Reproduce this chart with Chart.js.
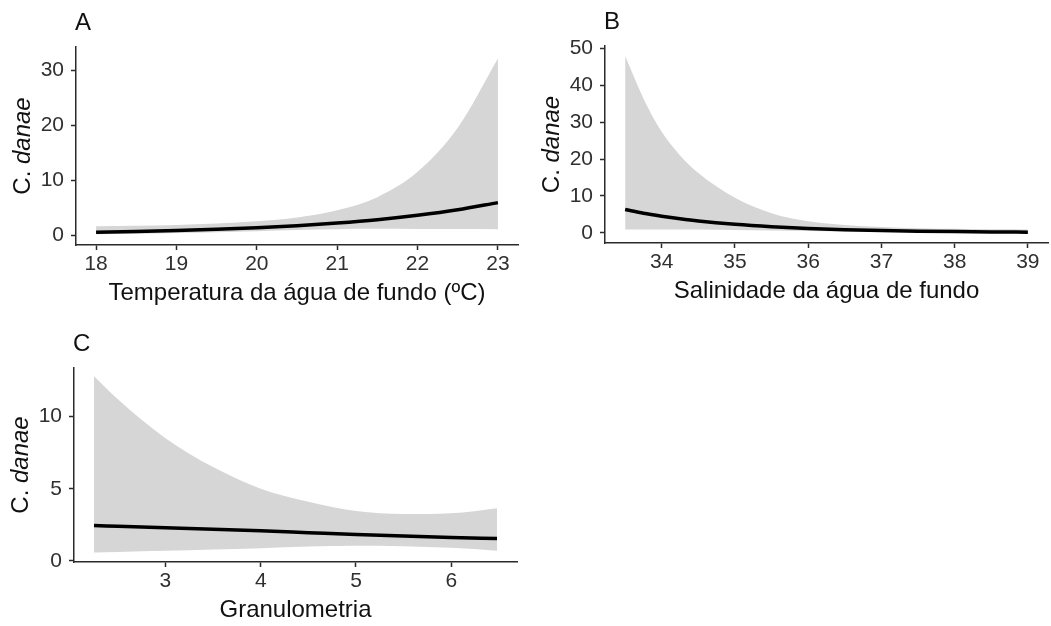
<!DOCTYPE html>
<html><head><meta charset="utf-8">
<script src="https://cdn.jsdelivr.net/npm/chart.js@4"></script>
<style>
html,body{margin:0;padding:0;background:#fff;}
body{width:1051px;height:626px;position:relative;overflow:hidden;}
canvas{position:absolute;}
</style></head><body>
<canvas id="cA" width="520" height="310" style="left:0;top:0"></canvas>
<canvas id="cB" width="531" height="310" style="left:520px;top:0"></canvas>
<canvas id="cC" width="530" height="316" style="left:0;top:310px"></canvas>
<script>
// ---- Panel A: Temperatura ----
const tempX     = [18, 18.5, 19, 19.5, 20, 20.5, 21, 21.5, 22, 22.5, 23];
const tempMean  = [0.5, 0.64, 0.82, 1.05, 1.34, 1.72, 2.2, 2.8, 3.6, 4.6, 5.9];
const tempUpper = [1.6, 1.7, 1.85, 2.1, 2.5, 3.2, 4.5, 6.9, 11.5, 19.5, 32.1];
const tempLower = [0.16, 0.23, 0.36, 0.53, 0.72, 0.92, 1.07, 1.14, 1.13, 1.09, 1.08];
const tempXTicks = [18, 19, 20, 21, 22, 23];
const tempYTicks = [0, 10, 20, 30];

// ---- Panel B: Salinidade ----
const salX     = [33.5, 33.75, 34, 34.25, 34.5, 35, 35.5, 36, 36.5, 37, 37.5, 38, 38.5, 39];
const salMean  = [6.3, 5.3, 4.5, 3.8, 3.2, 2.3, 1.65, 1.18, 0.84, 0.6, 0.43, 0.31, 0.22, 0.16];
const salUpper = [48, 36.5, 27.4, 21, 16.2, 9.5, 5.3, 3.1, 2.1, 1.55, 1.25, 1.05, 0.95, 0.9];
const salLower = [0.9, 0.9, 0.9, 0.88, 0.85, 0.75, 0.6, 0.45, 0.35, 0.25, 0.17, 0.1, 0.06, 0.03];
const salXTicks = [34, 35, 36, 37, 38, 39];
const salYTicks = [0, 10, 20, 30, 40, 50];

// ---- Panel C: Granulometria ----
const granX     = [2.25, 2.5, 3, 3.5, 4, 4.5, 5, 5.5, 6, 6.48];
const granMean  = [2.45, 2.4, 2.3, 2.19, 2.08, 1.95, 1.82, 1.72, 1.62, 1.55];
const granUpper = [12.8, 11.2, 8.5, 6.5, 5.0, 4.1, 3.45, 3.25, 3.3, 3.65];
const granLower = [0.58, 0.62, 0.7, 0.79, 0.88, 0.99, 1.05, 1.02, 0.9, 0.7];
const granXTicks = [3, 4, 5, 6];
const granYTicks = [0, 5, 10];

// ---- Texts ----
const panelLetters = ['A', 'B', 'C'];
const xTitles = ['Temperatura da água de fundo (ºC)', 'Salinidade da água de fundo', 'Granulometria'];
const yTitleGenus = 'C. ';
const yTitleSpecies = 'danae';

const FONT = '"Liberation Sans", Arial, sans-serif';
const RIBBON = '#d6d6d6';
const AX = '#2a2a2a';
const TICK = '#303030';

const panelText = {
  id: 'panelText',
  afterDraw(chart, args, opts) {
    const {ctx, chartArea: a} = chart;
    ctx.save();
    ctx.fillStyle = '#111';
    ctx.font = '24px ' + FONT;
    ctx.textBaseline = 'middle';
    ctx.textAlign = 'left';
    ctx.fillText(opts.letter, a.left - 1, a.top - 24);
    ctx.textAlign = 'center';
    ctx.fillText(opts.xTitle, (a.left + a.right) / 2, a.bottom + 48);
    ctx.translate(a.left - 53, (a.top + a.bottom) / 2);
    ctx.rotate(-Math.PI / 2);
    ctx.font = '24px ' + FONT;
    const w1 = ctx.measureText(yTitleGenus).width;
    ctx.font = 'italic 24px ' + FONT;
    const w2 = ctx.measureText(yTitleSpecies).width;
    const x0 = -(w1 + w2) / 2;
    ctx.textAlign = 'left';
    ctx.font = '24px ' + FONT;
    ctx.fillText(yTitleGenus, x0, 0);
    ctx.font = 'italic 24px ' + FONT;
    ctx.fillText(yTitleSpecies, x0 + w1, 0);
    ctx.restore();
  }
};

function pts(xs, ys) { return xs.map((v, i) => ({x: v, y: ys[i]})); }

function axisCommon(tickVals) {
  return {
    type: 'linear',
    afterBuildTicks: s => { s.ticks = tickVals.map(v => ({value: v})); },
    grid: {drawOnChartArea: false, drawTicks: true, tickLength: 5, tickColor: AX, tickWidth: 1.5},
    border: {display: true, color: AX, width: 1.5},
    ticks: {font: {family: FONT, size: 21}, color: TICK, maxRotation: 0, autoSkip: false}
  };
}

function makeChart(id, c) {
  const xs = axisCommon(c.xTicks);
  xs.min = c.xMin; xs.max = c.xMax;
  xs.ticks.padding = 2;
  xs.afterFit = s => { s.height = c.xAxisH; };
  const ys = axisCommon(c.yTicks);
  ys.min = c.yMin; ys.max = c.yMax;
  ys.ticks.padding = 7;
  ys.afterFit = s => { s.width = c.yAxisW; };
  new Chart(document.getElementById(id), {
    type: 'line',
    data: {datasets: [
      {data: pts(c.x, c.mean), fill: false, borderColor: '#000', borderWidth: 3.5, pointRadius: 0, cubicInterpolationMode: 'monotone'},
      {data: pts(c.x, c.upper), fill: '+1', backgroundColor: RIBBON, borderColor: 'rgba(0,0,0,0)', borderWidth: 0, pointRadius: 0, cubicInterpolationMode: 'monotone'},
      {data: pts(c.x, c.lower), fill: false, borderColor: 'rgba(0,0,0,0)', borderWidth: 0, pointRadius: 0, cubicInterpolationMode: 'monotone'}
    ]},
    options: {
      responsive: false, animation: false, devicePixelRatio: 1,
      layout: {padding: {left: 0, right: c.padRight, top: c.padTop, bottom: 0}},
      plugins: {legend: {display: false}, tooltip: {enabled: false},
        panelText: {letter: c.letter, xTitle: c.xTitle}},
      scales: {x: xs, y: ys}
    },
    plugins: [panelText]
  });
}

makeChart('cA', {x: tempX, mean: tempMean, upper: tempUpper, lower: tempLower,
  xTicks: tempXTicks, yTicks: tempYTicks, xMin: 17.75, xMax: 23.25, yMin: -1.8, yMax: 34.2,
  padTop: 47, padRight: 2, yAxisW: 76, xAxisH: 65, letter: panelLetters[0], xTitle: xTitles[0]});

makeChart('cB', {x: salX, mean: salMean, upper: salUpper, lower: salLower,
  xTicks: salXTicks, yTicks: salYTicks, xMin: 33.225, xMax: 39.275, yMin: -2.79, yMax: 50.73,
  padTop: 46, padRight: 3, yAxisW: 85, xAxisH: 67, letter: panelLetters[1], xTitle: xTitles[1]});

makeChart('cC', {x: granX, mean: granMean, upper: granUpper, lower: granLower,
  xTicks: granXTicks, yTicks: granYTicks, xMin: 2.04, xMax: 6.69, yMin: -0.08, yMax: 13.37,
  padTop: 58, padRight: 13, yAxisW: 74, xAxisH: 64, letter: panelLetters[2], xTitle: xTitles[2]});
</script>
</body></html>
